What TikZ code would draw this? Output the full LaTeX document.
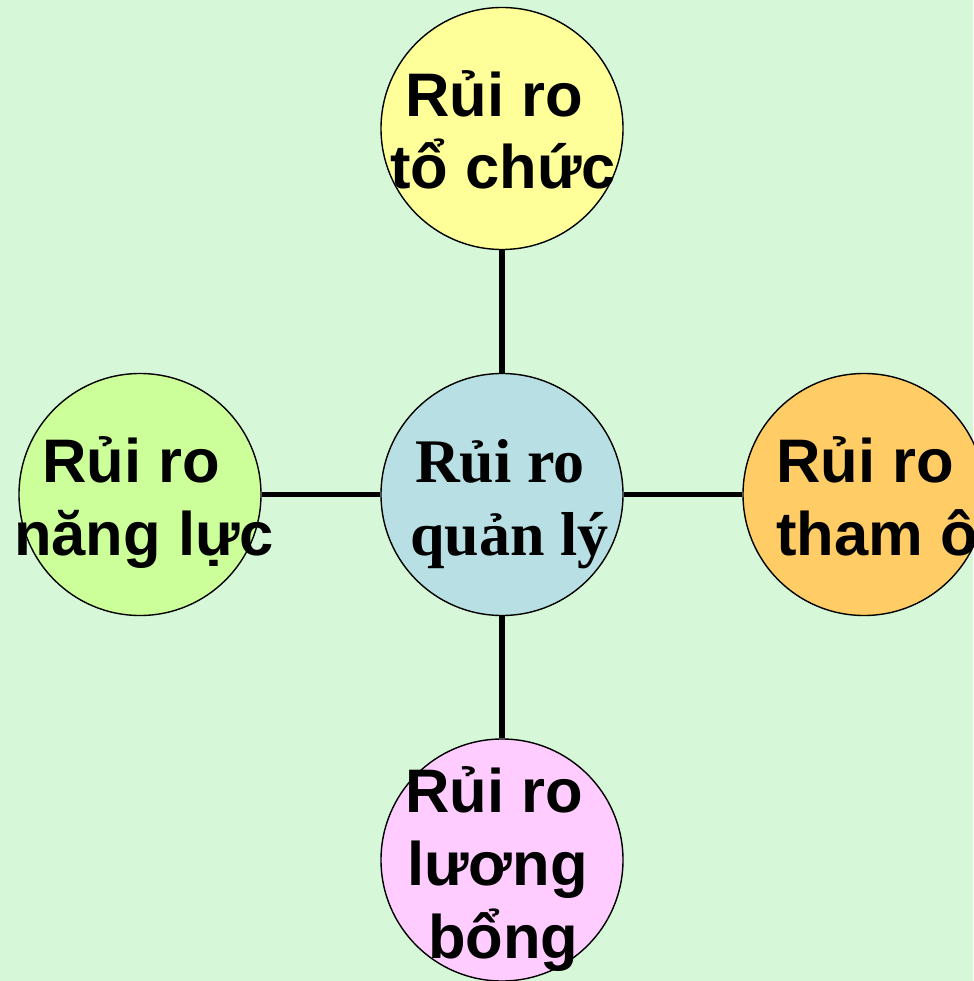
\documentclass[tikz,border=0pt]{standalone}
\usepackage{fontspec}
\setmainfont{Liberation Sans}
\newfontfamily\serifbold{Liberation Serif}
\definecolor{bgc}{HTML}{D6F8D8}
\definecolor{topc}{HTML}{FFFF99}
\definecolor{midc}{HTML}{B8DFE3}
\definecolor{leftc}{HTML}{CCFF99}
\definecolor{rightc}{HTML}{FFCC66}
\definecolor{botc}{HTML}{FFCCFF}
\begin{document}
\begin{tikzpicture}[x=1pt,y=-1pt,
  bubble/.style={circle,draw=black,line width=1.4pt,minimum size=242pt,inner sep=0pt},
  link/.style={line width=5.5pt,black},
  lbl/.style={anchor=base west,inner sep=0pt,font=\fontsize{61.5}{72}\selectfont\bfseries},
  slbl/.style={anchor=base west,inner sep=0pt,font=\fontsize{62}{72}\selectfont\serifbold\bfseries}]
\fill[bgc] (0,0) rectangle (973,981);
\useasboundingbox (0,0) rectangle (973,981);
\node[bubble,fill=topc] (top) at (502,128.5) {};
\node[bubble,fill=midc] (mid) at (502,494.5) {};
\node[bubble,fill=leftc] (left) at (140,494.5) {};
\node[bubble,fill=rightc] (right) at (864,494.5) {};
\node[bubble,fill=botc] (bot) at (502,860) {};
\draw[link] (top) -- (mid);
\draw[link] (mid) -- (bot);
\draw[link] (left) -- (mid);
\draw[link] (mid) -- (right);
\node[lbl] (t1) at (405,117) {Rủi ro};
\node[lbl] (t2) at (390,189) {tổ chức};
\node[slbl] (m1) at (415,482) {Rủi ro};
\node[slbl] (m2) at (410,555) {quản lý};
\node[lbl] (l1) at (42,482) {Rủi ro};
\node[lbl] (l2) at (14,555) {năng lực};
\node[lbl] (r1) at (776,482) {Rủi ro};
\node[lbl] (r2) at (776,555) {tham ô};
\node[lbl] (b1) at (405,812) {Rủi ro};
\node[lbl] (b2) at (407,885) {lương};
\node[lbl] (b3) at (428,958) {bổng};
\end{tikzpicture}
\end{document}
